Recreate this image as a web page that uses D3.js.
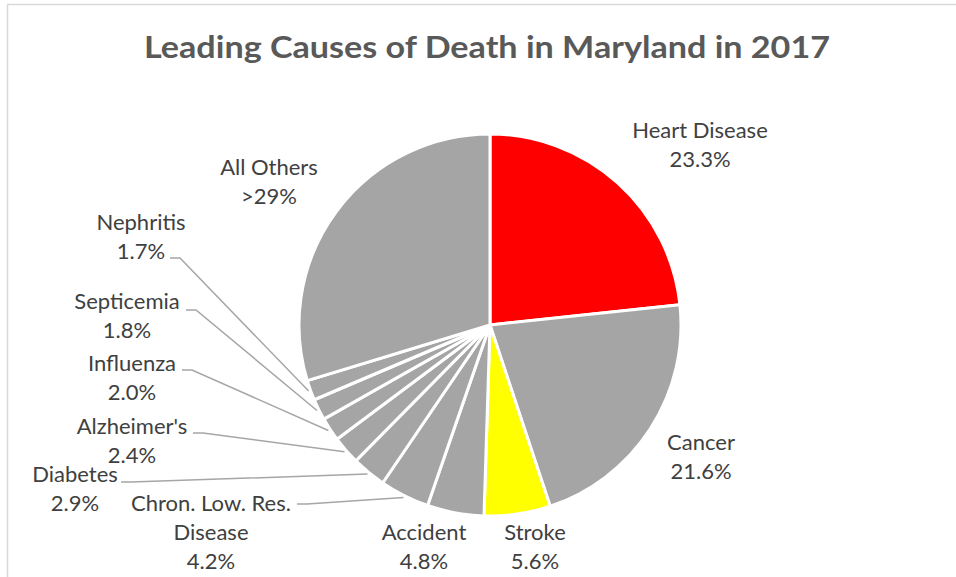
<!DOCTYPE html>
<html>
<head>
<meta charset="utf-8">
<script src="https://cdn.jsdelivr.net/npm/d3@7"></script>
<style>
  html, body { margin: 0; padding: 0; background: #ffffff; }
  svg { display: block; }
  text { font-family: Lato, "Open Sans", sans-serif; }
</style>
</head>
<body>
<svg id="chart" width="956" height="577"></svg>
<script>
// ---- data ----
const categories = ["Heart Disease", "Cancer", "Stroke", "Accident", "Chron. Low. Res. Disease",
  "Diabetes", "Alzheimer's", "Influenza", "Septicemia", "Nephritis", "All Others"];
const values = [23.3, 21.6, 5.6, 4.8, 4.2, 2.9, 2.4, 2.0, 1.8, 1.7, 29.7];
const valueLabels = ["23.3%", "21.6%", "5.6%", "4.8%", "4.2%", "2.9%", "2.4%", "2.0%", "1.8%", "1.7%", ">29%"];
const titleText = "Leading Causes of Death in Maryland in 2017";

// ---- layout / style (not data) ----
const W = 956, H = 577;
const cx = 490, cy = 325, R = 191;
const colorOf = {
  "Heart Disease": "#ff0000",
  "Stroke": "#ffff00"
};
const defaultColor = "#a5a5a5";
// label line texts (wrapping as in reference)
const labelLines = {
  "Heart Disease": ["Heart Disease"],
  "Cancer": ["Cancer"],
  "Stroke": ["Stroke"],
  "Accident": ["Accident"],
  "Chron. Low. Res. Disease": ["Chron. Low. Res.", "Disease"],
  "Diabetes": ["Diabetes"],
  "Alzheimer's": ["Alzheimer's"],
  "Influenza": ["Influenza"],
  "Septicemia": ["Septicemia"],
  "Nephritis": ["Nephritis"],
  "All Others": ["All Others"]
};
// label anchor: center x, first baseline y; leader start (lx, ly) if any
const labelPos = {
  "Heart Disease": {x: 700, y: 138},
  "Cancer": {x: 701, y: 450},
  "Stroke": {x: 535, y: 540},
  "Accident": {x: 424, y: 540},
  "Chron. Low. Res. Disease": {x: 211, y: 511, lx: 297, ly: 504},
  "Diabetes": {x: 75, y: 482, lx: 121, ly: 482},
  "Alzheimer's": {x: 132, y: 434, lx: 193, ly: 433},
  "Influenza": {x: 132, y: 371, lx: 182, ly: 370},
  "Septicemia": {x: 127, y: 309, lx: 186, ly: 310},
  "Nephritis": {x: 141, y: 230, lx: 170, ly: 258},
  "All Others": {x: 269, y: 175}
};
const lineGap = 29;

const svg = d3.select("#chart");

// chart border
svg.append("rect")
  .attr("x", 7.5).attr("y", 4.5)
  .attr("width", 980).attr("height", 620)
  .attr("fill", "#ffffff")
  .attr("stroke", "#d9d9d9").attr("stroke-width", 1.5);

// title
svg.append("text")
  .attr("x", 487).attr("y", 58)
  .attr("text-anchor", "middle")
  .attr("font-size", 31)
  .attr("font-weight", 700)
  .attr("fill", "#595959")
  .attr("textLength", 686)
  .attr("lengthAdjust", "spacingAndGlyphs")
  .text(titleText);

const data = categories.map((c, i) => ({name: c, value: values[i], label: valueLabels[i]}));

const pie = d3.pie().sort(null).value(d => d.value);
const arcs = pie(data);
const arc = d3.arc().innerRadius(0).outerRadius(R);
const outer = d3.arc().innerRadius(R + 2).outerRadius(R + 2);

const g = svg.append("g").attr("transform", `translate(${cx},${cy})`);

g.selectAll("path.slice")
  .data(arcs)
  .join("path")
  .attr("class", "slice")
  .attr("d", arc)
  .attr("fill", d => colorOf[d.data.name] || defaultColor)
  .attr("stroke", "#ffffff")
  .attr("stroke-width", 3)
  .attr("stroke-linejoin", "round");

// leader lines
const leaders = arcs.filter(d => labelPos[d.data.name].lx !== undefined);
svg.selectAll("polyline.leader")
  .data(leaders)
  .join("polyline")
  .attr("class", "leader")
  .attr("fill", "none")
  .attr("stroke", "#a6a6a6")
  .attr("stroke-width", 1.5)
  .attr("points", d => {
    const p = labelPos[d.data.name];
    const c = outer.centroid(d);
    const ex = cx + c[0], ey = cy + c[1];
    return [[p.lx, p.ly], [p.lx + 10, p.ly], [ex, ey]].map(q => q.join(",")).join(" ");
  });

// labels
const lbl = svg.selectAll("text.lbl")
  .data(arcs)
  .join("text")
  .attr("class", "lbl")
  .attr("text-anchor", "middle")
  .attr("font-size", 22)
  .attr("fill", "#404040");

lbl.each(function(d) {
  const p = labelPos[d.data.name];
  const lines = labelLines[d.data.name].concat([d.data.label]);
  d3.select(this).selectAll("tspan")
    .data(lines)
    .join("tspan")
    .attr("x", p.x)
    .attr("y", (t, i) => p.y + i * lineGap)
    .text(t => t);
});
</script>
</body>
</html>
